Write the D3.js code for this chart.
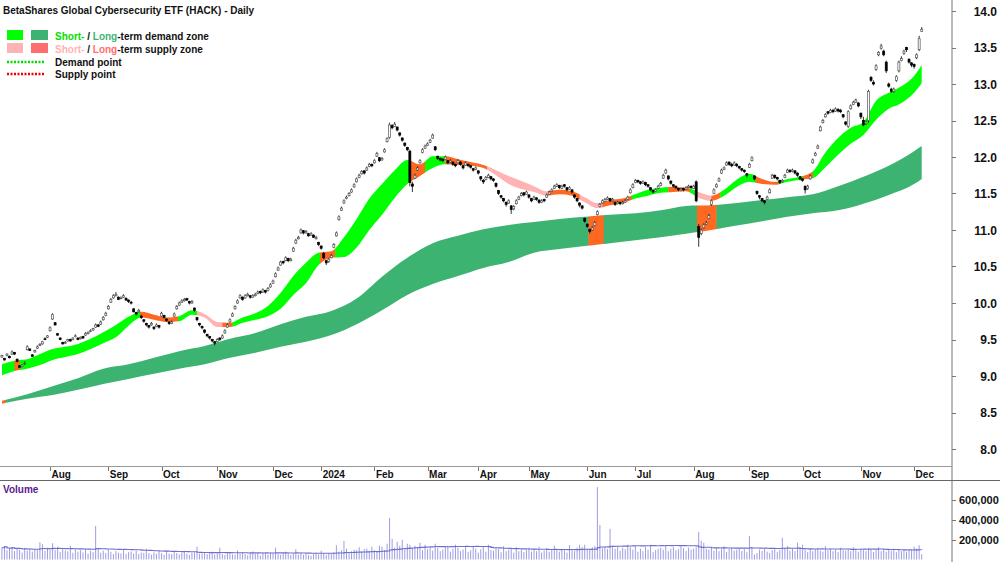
<!DOCTYPE html>
<html><head><meta charset="utf-8">
<script src="https://cdn.jsdelivr.net/npm/d3@7"></script>
<style>body{margin:0;background:#fff}svg{display:block;font-family:"Liberation Sans",Arial,sans-serif}</style>
</head><body><svg id="c" width="1000" height="562"></svg>
<script>
const chartTitle = "BetaShares Global Cybersecurity ETF (HACK) - Daily";
const firstSession = "2023-07-05";
const asxHolidays = ["2023-12-25","2023-12-26","2024-01-01","2024-01-26","2024-03-29","2024-04-01","2024-04-25","2024-06-10"];
const monthLabels = ["Aug","Sep","Oct","Nov","Dec","2024","Feb","Mar","Apr","May","Jun","Jul","Aug","Sep","Oct","Nov","Dec"];
const priceTicks = [8.0,8.5,9.0,9.5,10.0,10.5,11.0,11.5,12.0,12.5,13.0,13.5,14.0];
const volumeTicks = [200,400,600]; // thousands

const close = [
9.28,9.22,9.30,9.25,9.33,9.30,9.20,9.12,9.15,9.18,
9.40,9.35,9.27,9.35,9.40,9.43,9.47,9.50,9.55,9.66,
9.84,9.70,9.56,9.50,9.44,9.46,9.50,9.48,9.52,9.55,
9.50,9.53,9.52,9.58,9.60,9.62,9.65,9.70,9.68,9.74,
9.80,9.86,9.95,10.05,10.10,10.12,10.05,10.07,10.10,10.04,
10.02,10.00,9.88,9.85,9.90,9.80,9.75,9.70,9.67,9.72,
9.65,9.70,9.67,9.86,9.80,9.76,9.72,9.74,9.85,9.95,
10.00,10.03,10.05,10.04,10.00,10.02,9.90,9.77,9.70,9.66,
9.60,9.55,9.52,9.48,9.45,9.50,9.50,9.55,9.62,9.70,
9.77,9.85,9.95,10.03,10.10,10.05,10.10,10.12,10.08,10.10,
10.12,10.15,10.14,10.18,10.15,10.20,10.25,10.30,10.40,10.48,
10.56,10.55,10.62,10.58,10.60,10.75,10.86,10.90,11.00,10.96,
10.98,10.92,10.95,10.90,10.90,10.80,10.75,10.62,10.55,10.60,
10.65,10.80,10.96,11.18,11.30,11.40,11.45,11.50,11.55,11.62,
11.70,11.75,11.80,11.78,11.85,11.90,11.88,11.95,12.05,11.95,
11.98,12.10,12.25,12.44,12.40,12.45,12.37,12.30,12.23,12.16,
12.10,11.65,11.60,11.75,11.85,11.95,12.10,12.15,12.18,12.23,
12.30,12.10,11.98,11.96,11.95,12.00,11.92,11.95,11.90,11.88,
11.95,11.90,11.85,11.92,11.88,11.86,11.82,11.85,11.78,11.70,
11.66,11.72,11.75,11.70,11.68,11.60,11.50,11.45,11.40,11.35,
11.40,11.28,11.32,11.40,11.45,11.50,11.48,11.52,11.45,11.40,
11.45,11.42,11.38,11.40,11.40,11.48,11.52,11.55,11.60,11.62,
11.58,11.60,11.60,11.55,11.58,11.52,11.45,11.40,11.34,11.30,
11.12,11.05,10.98,11.03,11.10,11.25,11.35,11.40,11.42,11.44,
11.40,11.42,11.35,11.38,11.36,11.38,11.40,11.45,11.55,11.62,
11.68,11.66,11.64,11.66,11.62,11.60,11.55,11.52,11.55,11.60,
11.64,11.75,11.82,11.70,11.64,11.60,11.58,11.55,11.56,11.55,
11.58,11.60,11.58,11.60,11.40,10.90,11.00,11.07,11.10,11.20,
11.40,11.55,11.62,11.70,11.82,11.85,11.92,11.90,11.88,11.92,
11.88,11.85,11.82,11.80,11.75,11.90,11.99,11.70,11.50,11.45,
11.40,11.38,11.45,11.55,11.75,11.72,11.70,11.65,11.68,11.75,
11.82,11.80,11.82,11.78,11.75,11.70,11.68,11.55,11.60,11.74,
11.96,12.05,12.15,12.41,12.50,12.58,12.60,12.64,12.62,12.66,
12.63,12.62,12.55,12.45,12.62,12.70,12.75,12.78,12.70,12.55,
12.44,12.48,12.90,13.05,13.00,13.25,13.43,13.52,13.40,13.18,
12.97,12.90,12.93,13.10,13.30,13.35,13.45,13.47,13.30,13.26,
13.24,13.40,13.62,13.75];
const open = [
9.26,9.24,9.28,9.27,9.30,9.32,9.23,9.14,9.13,9.17,
9.36,9.37,9.29,9.33,9.38,9.42,9.44,9.51,9.53,9.62,
9.78,9.73,9.58,9.52,9.46,9.45,9.48,9.50,9.50,9.54,
9.52,9.51,9.54,9.56,9.58,9.61,9.63,9.67,9.70,9.71,
9.77,9.83,9.92,10.01,10.07,10.10,10.08,10.06,10.08,10.06,
10.04,10.01,9.92,9.87,9.88,9.82,9.77,9.72,9.69,9.70,
9.67,9.68,9.69,9.82,9.83,9.78,9.74,9.72,9.82,9.92,
9.97,10.01,10.03,10.06,10.02,10.00,9.93,9.80,9.72,9.68,
9.63,9.57,9.54,9.50,9.47,9.47,9.52,9.52,9.59,9.67,
9.74,9.82,9.92,10.00,10.07,10.08,10.07,10.10,10.10,10.08,
10.10,10.13,10.16,10.15,10.17,10.17,10.22,10.27,10.36,10.45,
10.52,10.57,10.58,10.61,10.58,10.71,10.82,10.88,10.96,10.99,
10.96,10.95,10.93,10.93,10.88,10.83,10.78,10.68,10.58,10.57,
10.62,10.76,10.92,11.14,11.27,11.37,11.43,11.47,11.52,11.59,
11.66,11.72,11.77,11.81,11.82,11.87,11.90,11.92,12.01,11.99,
11.96,12.07,12.21,12.27,12.43,12.42,12.41,12.33,12.26,12.19,
12.13,12.08,11.63,11.71,11.82,11.92,12.06,12.12,12.16,12.20,
12.26,12.14,12.01,11.98,11.97,11.97,11.95,11.93,11.93,11.90,
11.92,11.93,11.88,11.89,11.90,11.88,11.84,11.83,11.81,11.73,
11.68,11.69,11.72,11.73,11.70,11.64,11.54,11.47,11.43,11.38,
11.37,11.33,11.29,11.36,11.42,11.47,11.51,11.49,11.48,11.43,
11.42,11.44,11.41,11.38,11.42,11.45,11.49,11.53,11.57,11.60,
11.61,11.57,11.62,11.58,11.56,11.55,11.48,11.43,11.37,11.33,
11.16,11.08,11.01,11.00,11.06,11.21,11.32,11.37,11.39,11.42,
11.43,11.40,11.38,11.36,11.38,11.36,11.38,11.42,11.51,11.58,
11.65,11.68,11.66,11.64,11.65,11.62,11.58,11.54,11.53,11.57,
11.61,11.71,11.78,11.74,11.67,11.62,11.60,11.57,11.54,11.57,
11.56,11.58,11.60,11.57,11.66,11.05,10.95,11.03,11.08,11.16,
11.35,11.50,11.59,11.67,11.78,11.83,11.89,11.93,11.90,11.89,
11.90,11.87,11.84,11.82,11.77,11.86,11.95,11.74,11.53,11.47,
11.43,11.40,11.42,11.51,11.71,11.75,11.72,11.68,11.66,11.72,
11.79,11.82,11.80,11.81,11.78,11.73,11.70,11.60,11.57,11.70,
11.92,12.02,12.12,12.36,12.47,12.55,12.62,12.61,12.64,12.63,
12.65,12.64,12.58,12.48,12.42,12.66,12.72,12.75,12.74,12.60,
12.50,12.46,12.50,13.09,13.02,13.20,13.40,13.49,13.45,13.30,
13.00,12.93,12.90,13.05,13.18,13.32,13.42,13.50,13.34,13.29,
13.27,13.36,13.47,13.72];
const high = [
9.29,9.25,9.31,9.28,9.35,9.33,9.24,9.15,9.16,9.20,
9.42,9.38,9.30,9.36,9.42,9.45,9.48,9.53,9.56,9.68,
9.86,9.74,9.59,9.53,9.47,9.48,9.51,9.51,9.53,9.57,
9.53,9.54,9.55,9.60,9.61,9.64,9.66,9.72,9.71,9.76,
9.82,9.88,9.97,10.07,10.12,10.15,10.09,10.09,10.12,10.08,
10.05,10.03,9.93,9.88,9.92,9.84,9.78,9.73,9.70,9.74,
9.68,9.72,9.70,9.88,9.84,9.79,9.75,9.76,9.87,9.97,
10.02,10.05,10.07,10.07,10.03,10.04,9.94,9.81,9.73,9.69,
9.64,9.58,9.55,9.51,9.48,9.52,9.53,9.57,9.64,9.72,
9.79,9.87,9.97,10.05,10.12,10.09,10.12,10.14,10.11,10.12,
10.14,10.17,10.17,10.20,10.18,10.22,10.27,10.32,10.42,10.50,
10.58,10.58,10.64,10.62,10.62,10.77,10.88,10.92,11.02,11.00,
11.00,10.96,10.97,10.94,10.92,10.84,10.79,10.70,10.59,10.62,
10.67,10.82,10.98,11.20,11.32,11.42,11.47,11.52,11.57,11.64,
11.72,11.77,11.82,11.82,11.87,11.92,11.91,11.97,12.07,12.00,
12.00,12.12,12.27,12.47,12.45,12.48,12.42,12.34,12.27,12.20,
12.14,12.10,11.66,11.77,11.87,11.97,12.12,12.17,12.20,12.25,
12.32,12.15,12.02,11.99,11.98,12.02,11.96,11.97,11.94,11.91,
11.97,11.94,11.89,11.94,11.91,11.89,11.85,11.87,11.82,11.74,
11.70,11.74,11.77,11.74,11.71,11.65,11.55,11.48,11.44,11.39,
11.42,11.34,11.34,11.42,11.47,11.52,11.52,11.54,11.49,11.44,
11.47,11.45,11.42,11.42,11.43,11.50,11.54,11.57,11.62,11.64,
11.62,11.62,11.63,11.59,11.60,11.56,11.49,11.44,11.38,11.34,
11.17,11.09,11.02,11.05,11.12,11.27,11.37,11.42,11.44,11.46,
11.44,11.44,11.39,11.40,11.39,11.40,11.42,11.47,11.57,11.64,
11.70,11.69,11.67,11.68,11.66,11.63,11.59,11.55,11.57,11.62,
11.66,11.77,11.84,11.75,11.68,11.63,11.61,11.58,11.58,11.58,
11.60,11.62,11.61,11.62,11.68,11.08,11.02,11.09,11.12,11.22,
11.42,11.57,11.64,11.72,11.84,11.87,11.94,11.94,11.92,11.94,
11.92,11.88,11.85,11.83,11.78,11.92,12.01,11.75,11.54,11.48,
11.44,11.41,11.47,11.57,11.77,11.76,11.73,11.69,11.70,11.77,
11.84,11.83,11.84,11.82,11.79,11.74,11.71,11.61,11.62,11.76,
11.98,12.07,12.17,12.43,12.52,12.60,12.63,12.66,12.66,12.68,
12.67,12.66,12.59,12.49,12.64,12.72,12.77,12.80,12.75,12.61,
12.55,12.50,12.92,13.11,13.05,13.27,13.45,13.55,13.47,13.32,
13.02,12.95,12.95,13.12,13.32,13.38,13.47,13.51,13.35,13.30,
13.28,13.42,13.66,13.78];
const low = [
9.25,9.21,9.27,9.24,9.29,9.29,9.19,9.11,9.12,9.15,
9.35,9.34,9.26,9.32,9.37,9.41,9.43,9.49,9.52,9.61,
9.77,9.69,9.55,9.49,9.43,9.44,9.47,9.47,9.49,9.53,
9.49,9.50,9.51,9.55,9.57,9.60,9.62,9.66,9.67,9.70,
9.76,9.82,9.91,10.00,10.06,10.09,10.04,10.05,10.07,10.03,
10.00,9.98,9.87,9.83,9.87,9.78,9.73,9.68,9.65,9.69,
9.63,9.67,9.65,9.81,9.79,9.74,9.70,9.71,9.81,9.91,
9.96,10.00,10.02,10.03,9.98,9.99,9.88,9.75,9.68,9.64,
9.58,9.53,9.50,9.46,9.42,9.46,9.48,9.51,9.58,9.66,
9.73,9.81,9.91,9.99,10.06,10.03,10.06,10.09,10.06,10.07,
10.09,10.12,10.12,10.14,10.13,10.16,10.21,10.26,10.35,10.44,
10.51,10.53,10.57,10.56,10.57,10.70,10.81,10.87,10.95,10.94,
10.95,10.91,10.92,10.89,10.87,10.78,10.73,10.60,10.52,10.55,
10.61,10.75,10.91,11.13,11.26,11.36,11.42,11.46,11.51,11.58,
11.65,11.71,11.76,11.76,11.81,11.86,11.86,11.91,12.00,11.93,
11.95,12.06,12.20,12.25,12.38,12.41,12.35,12.28,12.21,12.14,
12.08,11.60,11.52,11.70,11.81,11.91,12.05,12.11,12.15,12.19,
12.25,12.08,11.96,11.94,11.93,11.96,11.90,11.92,11.88,11.86,
11.91,11.88,11.83,11.88,11.86,11.84,11.80,11.82,11.76,11.67,
11.63,11.68,11.71,11.68,11.66,11.58,11.48,11.43,11.38,11.32,
11.36,11.22,11.27,11.35,11.41,11.46,11.46,11.48,11.43,11.38,
11.41,11.40,11.36,11.37,11.38,11.44,11.48,11.52,11.56,11.59,
11.56,11.56,11.58,11.53,11.55,11.50,11.43,11.38,11.31,11.28,
11.10,11.03,10.95,10.99,11.05,11.20,11.31,11.36,11.38,11.41,
11.38,11.39,11.33,11.35,11.34,11.35,11.37,11.41,11.50,11.57,
11.64,11.64,11.62,11.63,11.60,11.58,11.53,11.50,11.52,11.56,
11.60,11.70,11.77,11.68,11.62,11.58,11.56,11.53,11.53,11.53,
11.55,11.57,11.56,11.56,11.38,10.77,10.93,11.02,11.07,11.15,
11.33,11.49,11.58,11.66,11.77,11.82,11.88,11.88,11.86,11.88,
11.86,11.83,11.80,11.78,11.72,11.85,11.94,11.68,11.48,11.42,
11.38,11.35,11.41,11.50,11.70,11.70,11.68,11.63,11.65,11.71,
11.78,11.78,11.79,11.76,11.73,11.68,11.66,11.50,11.55,11.69,
11.91,12.01,12.11,12.35,12.46,12.54,12.58,12.60,12.60,12.62,
12.61,12.60,12.53,12.43,12.40,12.65,12.71,12.74,12.68,12.52,
12.42,12.44,12.47,13.03,12.98,13.18,13.38,13.47,13.38,13.15,
12.95,12.88,12.88,13.03,13.16,13.31,13.40,13.44,13.28,13.23,
13.21,13.34,13.45,13.72];
const volumeThousands = [
120,137,95,110,128,85,115,100,70,118,
90,112,80,105,95,175,155,88,120,100,
165,98,130,75,110,92,85,140,68,105,
80,95,72,110,60,88,75,340,115,70,
90,65,100,78,55,85,70,62,95,58,
75,82,60,90,55,70,68,110,65,50,
72,58,85,64,48,92,60,55,78,66,
52,70,88,60,45,68,72,130,58,62,
75,55,68,80,50,62,120,58,45,70,
65,52,48,90,60,75,55,42,68,82,
58,62,40,75,66,50,70,64,120,55,
48,68,80,57,45,62,105,50,72,48,
60,45,38,55,70,52,90,60,48,65,
62,75,145,80,95,190,110,70,85,100,
95,125,80,105,110,88,130,95,80,140,
130,95,160,420,210,120,180,140,200,100,
160,150,110,140,120,170,95,150,105,125,
90,160,115,85,100,125,140,80,110,150,
120,85,100,130,75,95,140,110,70,105,
130,80,150,95,90,120,105,75,135,85,
100,110,70,125,85,100,75,95,120,80,
105,85,130,70,90,115,80,100,140,100,
80,110,95,70,145,105,85,120,150,125,
150,110,100,125,135,735,350,115,135,105,
310,125,110,135,90,120,105,150,125,100,
135,80,110,85,125,100,150,75,95,110,
120,100,140,85,110,125,95,105,135,115,
85,120,100,110,125,280,190,170,110,100,
125,90,115,85,105,135,75,110,120,90,
100,115,85,105,75,240,125,50,65,100,
85,110,80,65,95,105,75,95,220,120,
135,90,110,85,170,125,150,100,75,110,
85,105,120,90,80,135,95,110,85,100,
75,120,95,90,105,85,125,95,80,110,
95,85,115,100,75,95,125,85,105,80,
100,90,110,75,95,85,105,80,95,90,
130,110,145,55];

// short-term zone edges, one value every 5 sessions (last = final session)
const shortZoneTop = [9.16,9.21,9.23,9.30,9.37,9.40,9.44,9.51,9.60,9.70,9.81,9.88,9.84,9.80,9.82,9.90,9.85,9.74,9.73,9.80,9.86,9.96,10.14,10.37,10.55,10.69,10.71,10.90,11.15,11.43,11.63,11.82,11.96,11.90,12.01,12.01,11.97,11.93,11.89,11.82,11.74,11.67,11.60,11.53,11.55,11.53,11.45,11.37,11.41,11.43,11.49,11.55,11.58,11.59,11.58,11.52,11.47,11.55,11.69,11.77,11.70,11.66,11.70,11.73,11.80,12.06,12.26,12.40,12.48,12.77,12.88,12.97,13.11,13.26];
const shortZoneBottom = [9.01,9.07,9.10,9.15,9.22,9.26,9.30,9.37,9.45,9.53,9.69,9.80,9.77,9.74,9.75,9.84,9.80,9.67,9.67,9.73,9.77,9.82,9.92,10.11,10.27,10.52,10.62,10.63,10.76,11.00,11.21,11.44,11.63,11.74,11.85,11.90,11.89,11.88,11.85,11.75,11.63,11.56,11.52,11.47,11.49,11.47,11.38,11.30,11.34,11.37,11.43,11.47,11.51,11.52,11.53,11.44,11.40,11.47,11.59,11.66,11.63,11.62,11.66,11.69,11.71,11.86,12.03,12.18,12.30,12.51,12.66,12.74,12.88,13.01];
// long-term zone edges, one value every 10 sessions (last = final session)
const longZoneTop = [8.66,8.75,8.86,8.97,9.10,9.16,9.25,9.34,9.41,9.51,9.59,9.71,9.81,9.89,10.06,10.36,10.62,10.82,10.92,11.01,11.07,11.11,11.15,11.18,11.21,11.23,11.27,11.33,11.34,11.37,11.41,11.45,11.49,11.60,11.73,11.88,12.08,12.15];
const longZoneBottom = [8.62,8.69,8.74,8.81,8.89,8.96,9.03,9.10,9.16,9.25,9.32,9.40,9.47,9.56,9.71,9.90,10.11,10.26,10.37,10.48,10.56,10.69,10.74,10.78,10.82,10.86,10.90,10.95,11.00,11.06,11.12,11.18,11.23,11.27,11.36,11.48,11.63,11.70];
// zone state changes (session index where each state begins)
const shortStateStart = [0,5,7,54.5,69.5,77,87,91,125.5,131.5,161,167,175,191.5,215.5,228,237,248.5,263,271.5,273.5,280,283.5,297.5,306.5,316,320];
const shortState =      ["D","X","D","X","D","S","X","D","X","D","X","D","X","S","X","S","X","D","X","D","S","X","D","X","D","X","D"];
const longStateStart = [0,1.5,231.5,237.5,274.3,282];
const longState =      ["X","D","X","D","X","D"];

const colors = {shortD:"#00ff00", longD:"#3cb371", shortS:"#ffb3b3", longS:"#ff6e6e", X:"#ff6820"};

const N = close.length;
const holidaySet = new Set(asxHolidays);
const dates = [];
{ let d = new Date(firstSession + "T00:00:00Z");
  while (dates.length < N) {
    const w = d.getUTCDay(); const s = d.toISOString().slice(0,10);
    if (w !== 0 && w !== 6 && !holidaySet.has(s)) dates.push(new Date(d));
    d.setUTCDate(d.getUTCDate() + 1);
  } }

const svg = d3.select("#c");
const x = d3.scaleLinear().domain([0, N - 1]).range([1.9, 921.7]);
const y = d3.scaleLinear().domain([8, 14]).range([449, 11]);
const yv = d3.scaleLinear().domain([0, 807]).range([559.5, 480]);

const defs = svg.append("defs");
defs.append("clipPath").attr("id","pclip").append("rect").attr("x",0).attr("y",0).attr("width",952).attr("height",465);

const price = svg.append("g").attr("clip-path","url(#pclip)");
const area = d3.area().x(d => x(d.i)).y0(d => y(d.lo)).y1(d => y(d.hi)).curve(d3.curveMonotoneX);

function drawZone(top, bottom, step, starts, states, colorD, colorS, id) {
  const pts = top.map((v, k) => ({i: Math.min(k * step, N - 1), hi: v, lo: bottom[k]}));
  starts.forEach((s, k) => {
    const e = k + 1 < starts.length ? starts[k + 1] : N - 1;
    const cid = id + k;
    defs.append("clipPath").attr("id", cid).append("rect")
      .attr("x", x(s)).attr("y", 0).attr("width", Math.max(0, x(e) - x(s)) + 0.4).attr("height", 470);
    const st = states[k];
    const fill = st === "D" ? colorD : st === "S" ? colorS : colors.X;
    price.append("path").datum(pts).attr("d", area).attr("fill", fill).attr("clip-path", `url(#${cid})`);
  });
}
drawZone(longZoneTop, longZoneBottom, 10, longStateStart, longState, colors.longD, colors.longS, "lz");
drawZone(shortZoneTop, shortZoneBottom, 5, shortStateStart, shortState, colors.shortD, colors.shortS, "sz");

// candles
const idx = d3.range(N);
price.append("g").selectAll("line").data(idx).join("line")
  .attr("x1", i => x(i)).attr("x2", i => x(i))
  .attr("y1", i => y(high[i])).attr("y2", i => y(low[i]))
  .attr("stroke", "#000").attr("stroke-width", 0.8);
price.append("g").selectAll("rect").data(idx).join("rect")
  .attr("x", i => x(i) - 1).attr("width", 2)
  .attr("y", i => y(Math.max(open[i], close[i])))
  .attr("height", i => Math.max(0.8, Math.abs(y(open[i]) - y(close[i]))))
  .attr("fill", i => close[i] >= open[i] ? "#fff" : "#000")
  .attr("stroke", i => close[i] >= open[i] ? "#555" : "#000")
  .attr("stroke-width", 0.7);

// frame lines
svg.append("line").attr("x1",952).attr("x2",952).attr("y1",0).attr("y2",562).attr("stroke","#777").attr("stroke-width",1);
svg.append("line").attr("x1",0).attr("x2",952).attr("y1",466.5).attr("y2",466.5).attr("stroke","#999").attr("stroke-width",1);
svg.append("line").attr("x1",0).attr("x2",1000).attr("y1",480.5).attr("y2",480.5).attr("stroke","#666").attr("stroke-width",1);

// price axis
const pa = svg.append("g");
pa.selectAll("line").data(priceTicks).join("line")
  .attr("x1",952).attr("x2",956).attr("y1",d=>Math.round(y(d))+0.5).attr("y2",d=>Math.round(y(d))+0.5)
  .attr("stroke","#777");
pa.selectAll("text").data(priceTicks).join("text")
  .attr("x",997).attr("y",d=>y(d)+4.5).attr("text-anchor","end")
  .attr("font-size",12).attr("font-weight","bold").attr("fill","#111")
  .text(d=>d3.format(".1f")(d));

// month axis
const monthStarts = idx.filter(i => i > 0 && dates[i].getUTCMonth() !== dates[i-1].getUTCMonth());
const ma = svg.append("g");
ma.selectAll("line").data(monthStarts).join("line")
  .attr("x1",i=>Math.round(x(i))+0.5).attr("x2",i=>Math.round(x(i))+0.5).attr("y1",467).attr("y2",471)
  .attr("stroke","#777");
ma.selectAll("text").data(monthStarts).join("text")
  .attr("x",i=>x(i)+1.5).attr("y",477.5)
  .attr("font-size",10).attr("font-weight","bold").attr("fill","#111")
  .text((i,k)=>monthLabels[k]);

// volume
const vg = svg.append("g");
vg.selectAll("line").data(idx).join("line")
  .attr("x1",i=>x(i)).attr("x2",i=>x(i)).attr("y1",yv(0)).attr("y2",i=>yv(volumeThousands[i]))
  .attr("stroke","#9d9de2").attr("stroke-width",1);
const volAvg = idx.map(i => d3.mean(volumeThousands.slice(Math.max(0, i - 39), i + 1)));
vg.append("path").datum(idx)
  .attr("d", d3.line().x(i=>x(i)).y(i=>yv(volAvg[i])).curve(d3.curveStepAfter))
  .attr("fill","none").attr("stroke","#6f6fcc").attr("stroke-width",1.1);
vg.selectAll("line.t").data(volumeTicks).join("line").attr("class","t")
  .attr("x1",952).attr("x2",956).attr("y1",d=>Math.round(yv(d))+0.5).attr("y2",d=>Math.round(yv(d))+0.5).attr("stroke","#777");
vg.selectAll("text").data(volumeTicks).join("text")
  .attr("x",959).attr("y",d=>yv(d)+4)
  .attr("font-size",11).attr("font-weight","bold").attr("fill","#111")
  .text(d=>d3.format(",")(d*1000));
svg.append("text").attr("x",3).attr("y",493).attr("font-size",10).attr("font-weight","bold").attr("fill","#5b1a8c").text("Volume");

// title
svg.append("text").attr("x",3).attr("y",14).attr("font-size",10).attr("font-weight","bold").attr("fill","#111").text(chartTitle);

// legend
const lg = svg.append("g").attr("font-size",10).attr("font-weight","bold");
lg.append("rect").attr("x",7).attr("y",30).attr("width",16).attr("height",10).attr("fill",colors.shortD);
lg.append("rect").attr("x",31).attr("y",30).attr("width",17).attr("height",10).attr("fill",colors.longD);
lg.append("rect").attr("x",7).attr("y",43).attr("width",16).attr("height",10).attr("fill",colors.shortS);
lg.append("rect").attr("x",31).attr("y",43).attr("width",17).attr("height",10).attr("fill",colors.longS);
const t1 = lg.append("text").attr("x",55).attr("y",39.5);
t1.append("tspan").attr("fill","#00e000").text("Short-");
t1.append("tspan").attr("fill","#111").text(" / ");
t1.append("tspan").attr("fill",colors.longD).text("Long");
t1.append("tspan").attr("fill","#111").text("-term demand zone");
const t2 = lg.append("text").attr("x",55).attr("y",52.5);
t2.append("tspan").attr("fill",colors.shortS).text("Short-");
t2.append("tspan").attr("fill","#111").text(" / ");
t2.append("tspan").attr("fill",colors.longS).text("Long");
t2.append("tspan").attr("fill","#111").text("-term supply zone");
lg.append("line").attr("x1",7).attr("x2",45).attr("y1",62).attr("y2",62).attr("stroke","#00dd00").attr("stroke-width",2.5).attr("stroke-dasharray","2,1.5");
lg.append("line").attr("x1",7).attr("x2",45).attr("y1",74).attr("y2",74).attr("stroke","#ee0000").attr("stroke-width",2.5).attr("stroke-dasharray","2,1.5");
lg.append("text").attr("x",55).attr("y",66).attr("fill","#111").text("Demand point");
lg.append("text").attr("x",55).attr("y",78).attr("fill","#111").text("Supply point");
</script></body></html>
